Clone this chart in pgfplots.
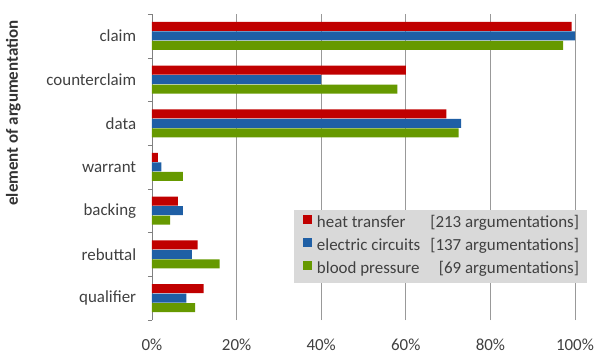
\documentclass[border=0pt]{standalone}
\usepackage{fontspec}
\setmainfont{Carlito}
\usepackage{pgfplots}
\pgfplotsset{compat=1.18}
\definecolor{cred}{RGB}{192,0,0}
\definecolor{cblue}{RGB}{31,95,165}
\definecolor{cgreen}{RGB}{102,153,0}
\begin{document}
\fontsize{17}{20}\selectfont
\begin{tikzpicture}
\begin{axis}[
  scale only axis,
  width=423bp, height=306bp,
  xbar, bar width=9bp,
  xmin=0, xmax=100,
  ymin=-0.5, ymax=6.5,
  axis lines*=left,
  x axis line style={draw=none},
  y axis line style={draw=gray},
  xtick={0,20,...,100},
  xticklabel={\pgfmathprintnumber{\tick}\%},
  /pgf/number format/assume math mode=true,
  xmajorgrids,
  grid style={draw=gray!80, line width=0.8pt},
  ytick={0,...,6},
  yticklabels={qualifier,rebuttal,backing,warrant,data,counterclaim,claim},
  minor ytick={-0.5,0.5,...,6.5},
  major tick length=0pt,
  minor tick length=4bp,
  tick align=outside,
  minor tick style={gray},
  yticklabel style={xshift=-10bp},
  xticklabel style={yshift=-13bp, inner xsep=0pt},
  tick label style={font=\fontsize{17}{20}\selectfont, text=black!75},
  ylabel={element of argumentation},
  ylabel style={font=\bfseries\fontsize{17}{20}\selectfont, text=black!80, inner sep=0pt, at={(axis description cs:-0.328,0.676)}, anchor=center},
  legend cell align=left,
  legend style={at={(1.030,0.359)}, anchor=north east, fill=black!15, draw=none,
    font=\fontsize{17}{20}\selectfont, text=black!75,
    nodes={inner sep=0pt, text height=12bp, text depth=4bp},
    row sep=6.5bp, inner xsep=8.5bp, inner ysep=5bp,
    /tikz/every odd column/.append style={column sep=5bp}},
  legend image code/.code={\fill[#1,draw=none] (0bp,-0.5bp) rectangle (9bp,8.5bp);},
]
\addplot[fill=cred, draw=none, bar shift=9.5bp] coordinates {
 (12.2,0) (10.8,1) (6.1,2) (1.4,3) (69.6,4) (60,5) (99.2,6)};
\addplot[fill=cblue, draw=none, bar shift=0bp] coordinates {
 (8.1,0) (9.4,1) (7.3,2) (2.2,3) (73.1,4) (40,5) (100,6)};
\addplot[fill=cgreen, draw=none, bar shift=-9.5bp] coordinates {
 (10.2,0) (16,1) (4.3,2) (7.3,3) (72.5,4) (58,5) (97.2,6)};
\legend{\makebox[111bp][l]{heat transfer}\makebox[151bp][r]{[213 argumentations]},
        \makebox[111bp][l]{electric circuits}\makebox[151bp][r]{[137 argumentations]},
        \makebox[111bp][l]{blood pressure}\makebox[151bp][r]{[69 argumentations]}}
\end{axis}
\path ([xshift=-152bp,yshift=-31bp]current axis.south west) rectangle ([xshift=21bp,yshift=14bp]current axis.north east);
\end{tikzpicture}
\end{document}
